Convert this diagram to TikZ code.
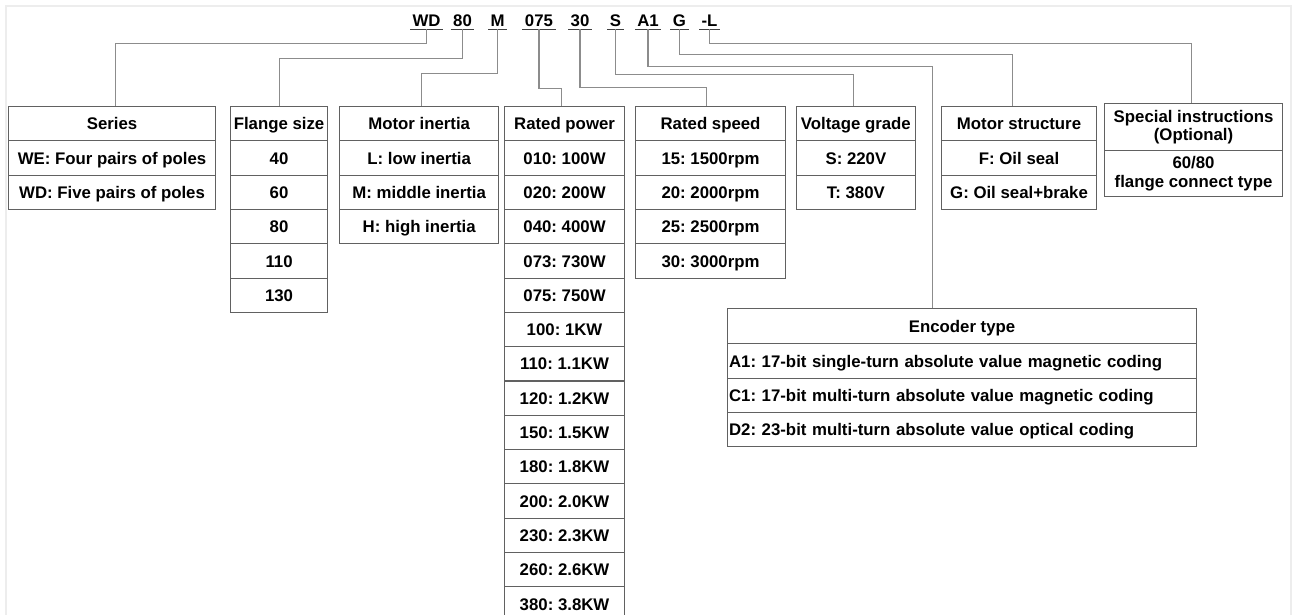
\documentclass[tikz,border=0pt]{standalone}
\usepackage{fontspec}
\setmainfont{Liberation Sans}
\usetikzlibrary{positioning}
\frenchspacing

\tikzset{
  cell/.style={draw=black!62, line width=1.1pt, inner sep=0pt, minimum height=34.3pt,
    text height=12.5pt, text depth=0.3pt,
    font=\bfseries\fontsize{16.8}{18}\selectfont, anchor=north west},
  twoline/.style={text height=, text depth=, align=center,
    font=\bfseries\fontsize{16.8}{18.5}\selectfont},
  code/.style={font=\bfseries\fontsize{16.8}{18}\selectfont, inner xsep=2.3pt,
    inner ysep=2.5pt, text depth=0pt, anchor=base},
  conn/.style={draw=black!45, line width=1.1pt},
  uline/.style={draw=black!75, line width=1.3pt},
}

\begin{document}
\begin{tikzpicture}[x=1pt,y=-1pt]
  \useasboundingbox (0,0) rectangle (1294,615);
  \draw[black!7, line width=2pt] (6,640) -- (6,6) -- (1291,6) -- (1291,640);

  % model code
  \node[code] (cwd)  at (426.5,26.5) {WD};
  \node[code] (c80)  at (462.5,26.5) {80};
  \node[code] (cm)   at (497.5,26.5) {M};
  \node[code] (c075) at (539,26.5) {075};
  \node[code] (c30)  at (580,26.5) {30};
  \node[code] (cs)   at (615.5,26.5) {S};
  \node[code] (ca1)  at (648,26.5) {A1};
  \node[code] (cg)   at (679.5,26.5) {G};
  \node[code] (cl)   at (709.5,26.5) {-L};
  \foreach \c in {cwd,c80,cm,c075,c30,cs,ca1,cg,cl}
    \draw[uline] (\c.south west) -- (\c.south east);

  % tables
  \node[cell, minimum width=207pt] (series) at (8,106) {Series};
  \foreach \txt [count=\i] in {WE: Four pairs of poles, WD: Five pairs of poles}
    \node[cell, minimum width=207pt] (series-\i) at (8,{106+34.3*\i}) {\txt};

  \node[cell, minimum width=97pt] (flange) at (230,106) {Flange size};
  \foreach \txt [count=\i] in {40,60,80,110,130}
    \node[cell, minimum width=97pt] (flange-\i) at (230,{106+34.3*\i}) {\txt};

  \node[cell, minimum width=158.7pt] (inertia) at (339.3,106) {Motor inertia};
  \foreach \txt [count=\i] in {L: low inertia, M: middle inertia, H: high inertia}
    \node[cell, minimum width=158.7pt] (inertia-\i) at (339.3,{106+34.3*\i}) {\txt};

  \node[cell, minimum width=120pt] (power) at (504,106) {Rated power};
  \foreach \txt [count=\i] in {010: 100W, 020: 200W, 040: 400W, 073: 730W, 075: 750W,
      100: 1KW, 110: 1.1KW, 120: 1.2KW, 150: 1.5KW, 180: 1.8KW, 200: 2.0KW,
      230: 2.3KW, 260: 2.6KW, 380: 3.8KW}
    \node[cell, minimum width=120pt] (power-\i) at (504,{106+34.3*\i}) {\txt};

  \node[cell, minimum width=150pt] (speed) at (635,106) {Rated speed};
  \foreach \txt [count=\i] in {15: 1500rpm, 20: 2000rpm, 25: 2500rpm, 30: 3000rpm}
    \node[cell, minimum width=150pt] (speed-\i) at (635,{106+34.3*\i}) {\txt};

  \node[cell, minimum width=119.3pt] (voltage) at (795.7,106) {Voltage grade};
  \foreach \txt [count=\i] in {S: 220V, T: 380V}
    \node[cell, minimum width=119.3pt] (voltage-\i) at (795.7,{106+34.3*\i}) {\txt};

  \node[cell, minimum width=155pt] (structure) at (941,106) {Motor structure};
  \foreach \txt [count=\i] in {F: Oil seal, G: Oil seal+brake}
    \node[cell, minimum width=155pt] (structure-\i) at (941,{106+34.3*\i}) {\txt};

  \node[cell, twoline, minimum width=178pt, minimum height=46.7pt] (special)
    at (1104,103.3) {Special instructions\\(Optional)};
  \node[cell, twoline, minimum width=178pt, minimum height=46pt] (special-1)
    at (1104,150) {60/80\\flange connect type};

  \node[cell, minimum width=469pt, minimum height=35pt] (encoder) at (727,308.3) {Encoder type};
  \foreach \txt [count=\i] in {A1: 17-bit single-turn absolute value magnetic coding,
      C1: 17-bit multi-turn absolute value magnetic coding,
      D2: 23-bit multi-turn absolute value optical coding}
    \node[cell, minimum height=34.2pt, inner xsep=1.5pt, text width=466pt, align=left]
      (encoder-\i) at (727,{343.3+34.2*(\i-1)}) {\txt};

  % connectors
  \draw[conn] (cwd.south) -- ++(0,14) -| ([xshift=3.3pt]series.north);
  \draw[conn] (c80.south) -- ++(0,29) -| (flange.north);
  \draw[conn] (cm.south) -- ++(0,44) -| ([xshift=2.4pt]inertia.north);
  \draw[conn] (c075.south) -- ++(0,59) -| ([xshift=-3pt]power.north);
  \draw[conn] (c30.south) -- ++(0,58) -| ([xshift=-4pt]speed.north);
  \draw[conn] (cs.south) -- ++(0,45) -| ([xshift=-2.4pt]voltage.north);
  \draw[conn] (ca1.south) -- ++(0,37) -| ([xshift=-29.5pt]encoder.north);
  \draw[conn] (cg.south) -- ++(0,25) -| ([xshift=-6.5pt]structure.north);
  \draw[conn] (cl.south) -- ++(0,14) -| ([xshift=-2pt]special.north);
\end{tikzpicture}
\end{document}
